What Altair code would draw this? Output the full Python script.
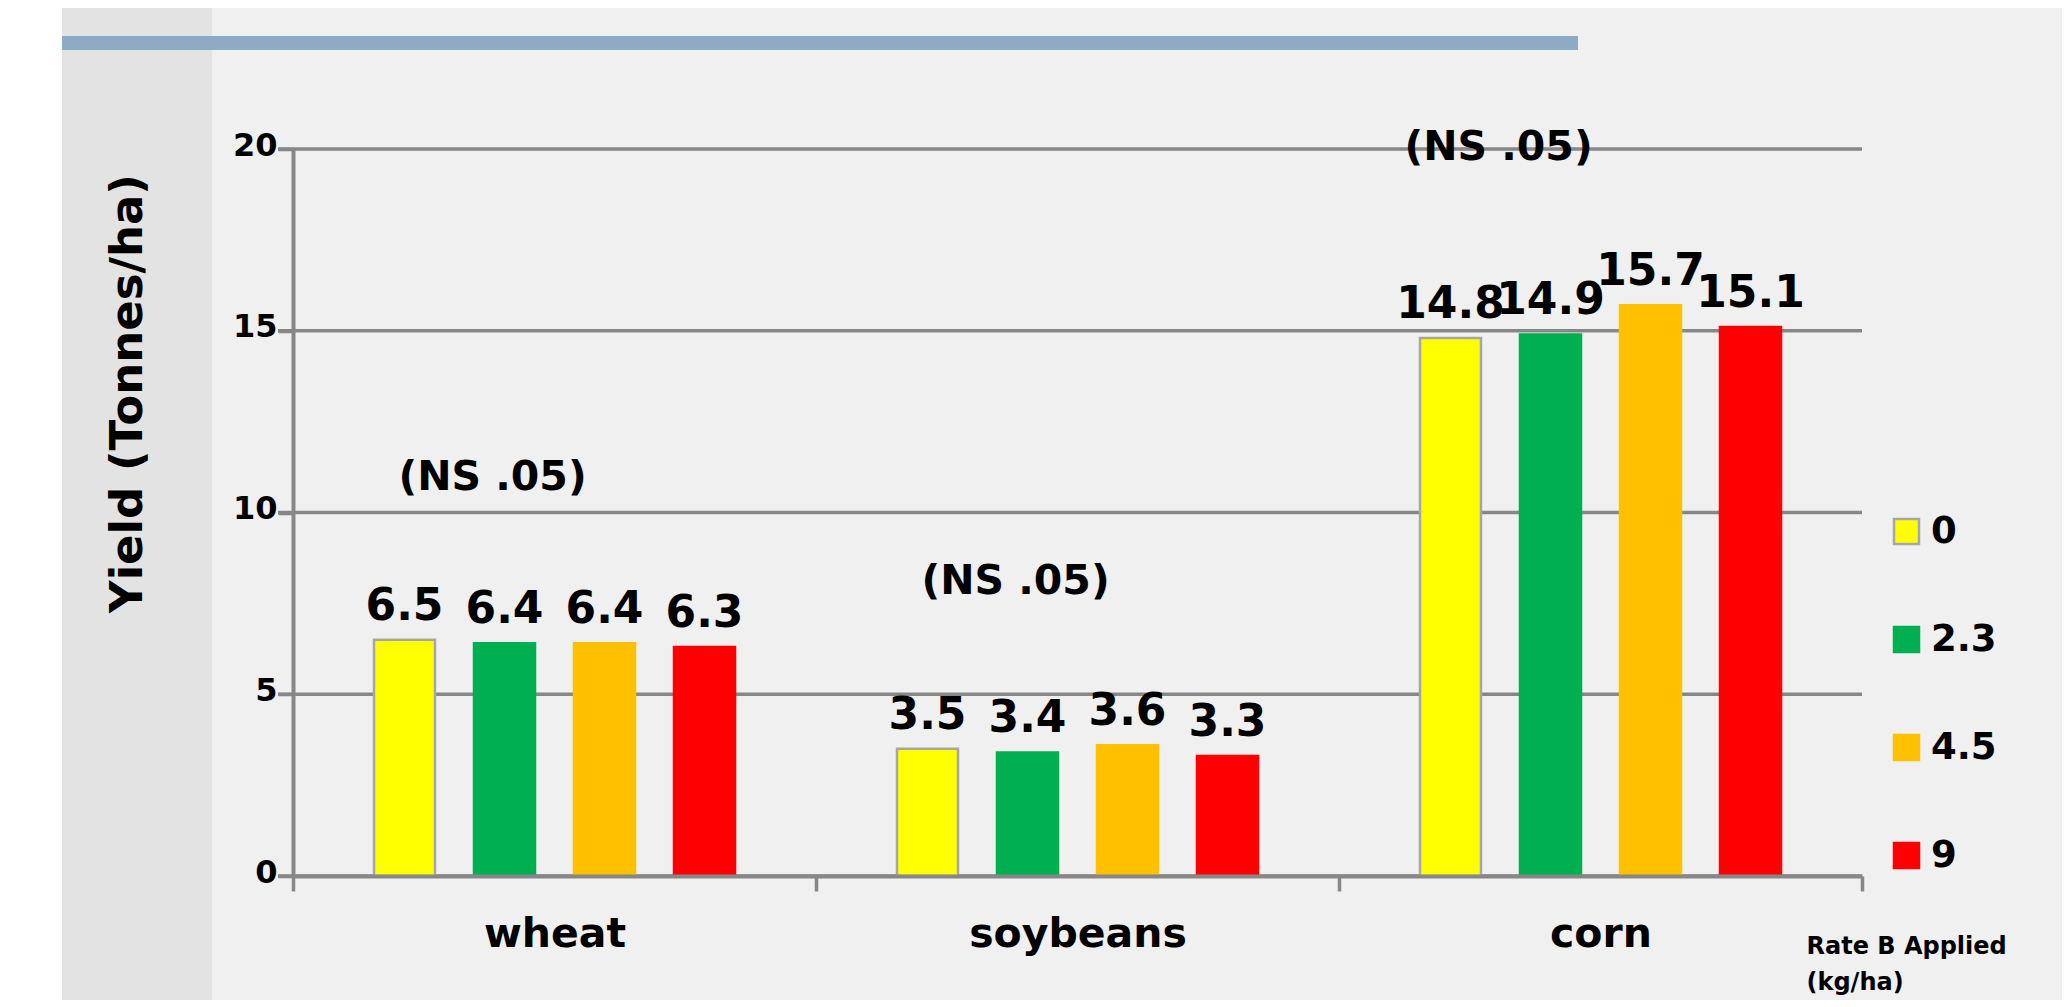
import altair as alt
import pandas as pd

# ---- data ----
crops = ["wheat", "soybeans", "corn"]
rates = ["0", "2.3", "4.5", "9"]
wheat = [6.5, 6.4, 6.4, 6.3]
soybeans = [3.5, 3.4, 3.6, 3.3]
corn = [14.8, 14.9, 15.7, 15.1]
y_ticks = [0, 5, 10, 15, 20]

fill_colors = ["#ffff00", "#00b050", "#ffc000", "#ff0000"]
stroke_colors = ["#a6a6a6", "#00b050", "#ffc000", "#ff0000"]

ns_text = "(NS .05)"
ns_crop = ["wheat", "soybeans", "corn"]
ns_level = [10.95, 8.1, 20.03]
ns_anchor = ["2.3", "2.3", "0"]

rows = []
for crop, vals in zip(crops, [wheat, soybeans, corn]):
    for r, v in zip(rates, vals):
        rows.append({"crop": crop, "rate": r, "yield": v, "label": f"{v:.1f}"})
df = pd.DataFrame(rows)

ns_df = pd.DataFrame({"crop": ns_crop, "rate": ns_anchor, "yield": ns_level,
                      "label": [ns_text] * 3})
grid_df = pd.DataFrame({"yield": y_ticks})

FONT = "DejaVu Sans"
GRAY = "#878787"

x_enc = alt.X(
    "crop:N", sort=crops,
    scale=alt.Scale(paddingInner=0, paddingOuter=0),
    axis=alt.Axis(
        title=["Rate B Applied", "(kg/ha)"],
        titleX=1513, titleY=58, titleAlign="left", titleBaseline="top",
        titleFontSize=24, titleFontWeight="bold", titleLineHeight=36,
        titleFont=FONT, titleColor="#000000",
        labelAngle=0, labelFontSize=41, labelFontWeight="bold", labelFont=FONT,
        labelColor="#000000", labelPadding=23, labelLimit=0,
        tickBand="extent", tickSize=15, tickWidth=3.5, tickColor=GRAY,
        domainColor=GRAY, domainWidth=4, grid=False, zindex=1,
    ),
)
xo_enc = alt.XOffset("rate:N", sort=rates,
                     scale=alt.Scale(paddingInner=0.39, paddingOuter=0.81))
y_enc = alt.Y(
    "yield:Q",
    scale=alt.Scale(domain=[0, 20], nice=False),
    axis=alt.Axis(
        values=y_ticks, title="Yield (Tonnes/ha)",
        titleFontSize=45, titleFontWeight="bold", titleFont=FONT, titleColor="#000000",
        titleX=-166, titleY=244, titleAlign="center", titleBaseline="middle", titleAngle=270,
        labelFontSize=32, labelFontWeight="bold", labelFont=FONT, labelColor="#000000",
        labelPadding=1, labelOffset=-4,
        tickSize=15, tickWidth=3.5, tickColor=GRAY,
        grid=False, domainColor=GRAY, domainWidth=4, zindex=1,
    ),
)

legend = alt.Legend(
    orient="none", legendX=1595, legendY=364, title=None,
    symbolType="square", symbolSize=625, symbolStrokeWidth=2.5,
    labelFontSize=37, labelFontWeight="bold", labelFont=FONT, labelColor="#000000",
    labelOffset=6, rowPadding=70, zindex=1,
)

one = pd.DataFrame({"a": [0]})

# decorative slide background (light panel with darker left strip)
panel = alt.Chart(one).mark_rect(color="#f0f0f0").encode(
    x=alt.value(-231), x2=alt.value(1771), y=alt.value(-141), y2=alt.value(851))
panel_left = alt.Chart(one).mark_rect(color="#e3e3e3").encode(
    x=alt.value(-231), x2=alt.value(-81), y=alt.value(-141), y2=alt.value(851))

top_bar = alt.Chart(one).mark_rule(
    color="#8faac5", strokeWidth=14
).encode(x=alt.value(-231), x2=alt.value(1285), y=alt.value(-106))

gridlines = alt.Chart(grid_df).mark_rule(color=GRAY, strokeWidth=3.5).encode(
    y=y_enc, x=alt.value(-15), x2=alt.value(1569))

bars = alt.Chart(df).mark_bar(strokeWidth=2.5).encode(
    x=x_enc, xOffset=xo_enc, y=y_enc,
    fill=alt.Fill("rate:N", sort=rates,
                  scale=alt.Scale(domain=rates, range=fill_colors), legend=legend),
    stroke=alt.Stroke("rate:N", sort=rates,
                      scale=alt.Scale(domain=rates, range=stroke_colors), legend=legend),
)

labels = alt.Chart(df).mark_text(
    baseline="alphabetic", dy=-20, fontSize=44, fontWeight="bold", font=FONT, color="#000000"
).encode(x=x_enc, xOffset=xo_enc, y=y_enc, text="label:N")

ns_left = alt.Chart(ns_df).transform_filter(
    alt.datum.crop != "corn"
).mark_text(baseline="middle", dx=-12, fontSize=41, fontWeight="bold", font=FONT,
            color="#000000").encode(x=x_enc, xOffset=xo_enc, y=y_enc, text="label:N")

ns_corn = alt.Chart(ns_df).transform_filter(
    alt.datum.crop == "corn"
).mark_text(baseline="middle", dx=48, fontSize=41, fontWeight="bold", font=FONT,
            color="#000000").encode(x=x_enc, xOffset=xo_enc, y=y_enc, text="label:N")

chart = alt.layer(panel, panel_left, top_bar, gridlines, bars, labels, ns_left, ns_corn).properties(
    width=1569, height=727,
    padding={"left": 285, "top": 141, "right": 200, "bottom": 124},
    autosize=alt.AutoSizeParams(type="none"),
).configure(background="#ffffff", font=FONT).configure_view(stroke=None)

chart.save("out.html", embed_options={"renderer": "svg", "actions": False})
